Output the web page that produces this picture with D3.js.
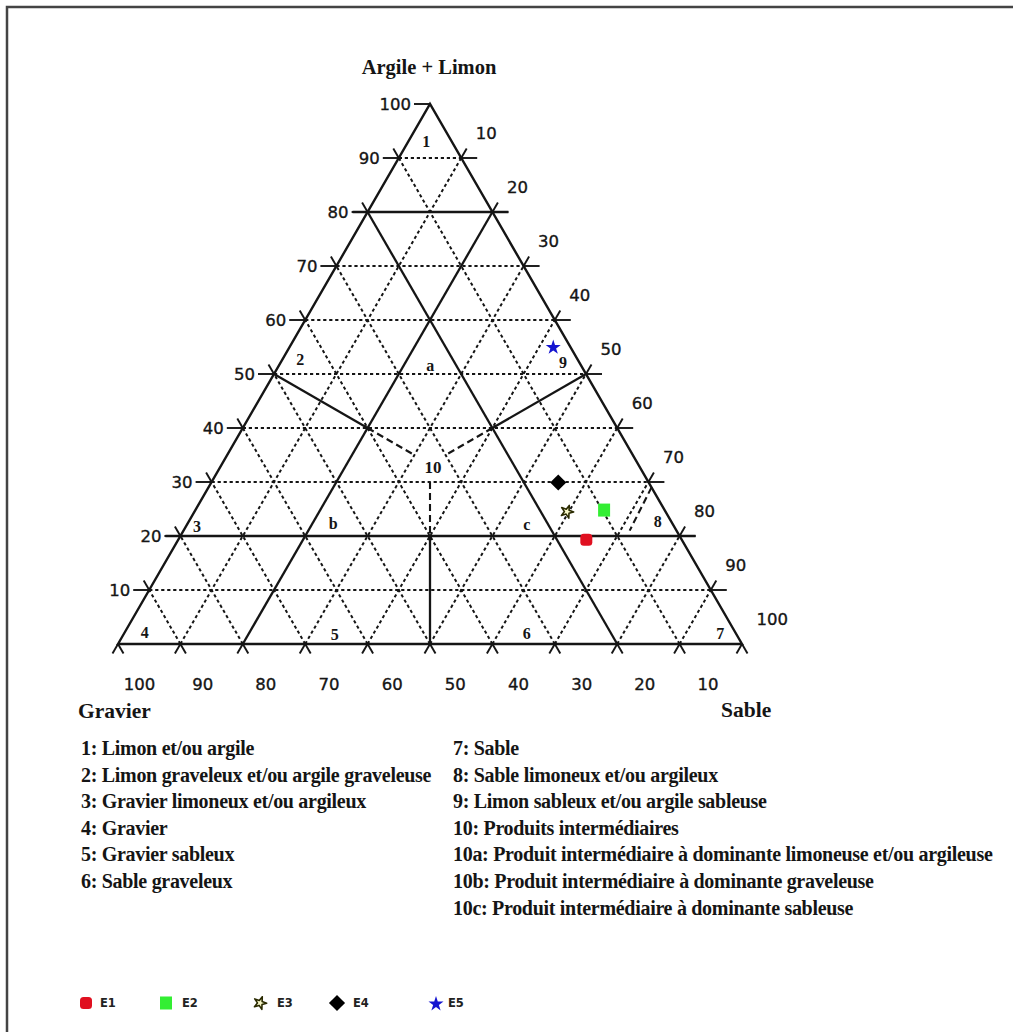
<!DOCTYPE html>
<html><head><meta charset="utf-8">
<script src="https://cdn.jsdelivr.net/npm/d3@7"></script>
<style>body{margin:0;background:#fff}svg{display:block}</style>
</head><body>
<svg id="c" width="1022" height="1032"></svg>
<script>
// ---------- data ----------
const gridLevels = [10, 20, 30, 40, 50, 60, 70, 80, 90];
const solidArgile = [20, 80];
const solidSable = [20];
const solidGravier = [20];
const leftTickLabels = [10, 20, 30, 40, 50, 60, 70, 80, 90, 100];
const rightTickLabels = [10, 20, 30, 40, 50, 60, 70, 80, 90, 100];
const bottomTickLabels = [100, 90, 80, 70, 60, 50, 40, 30, 20, 10];

const sampleNames = ["E1", "E2", "E3", "E4", "E5"];
const sampleArgileLimon = [19.3, 24.8, 24.5, 29.9, 55.1];
const sampleSable = [65.4, 65.5, 59.7, 55.6, 42.2];

const zoneNames = ["1", "2", "a", "9", "10", "b", "3", "c", "8", "4", "5", "6", "7"];
const zoneArgileLimon = [93.0, 52.6, 51.5, 52.2, 32.6, 22.4, 21.7, 22.2, 22.6, 2.2, 1.7, 2.0, 2.0];
const zoneSable = [2.9, 2.9, 24.3, 45.2, 34.2, 23.3, 1.8, 54.4, 75.2, 3.2, 33.9, 64.5, 95.5];

// zone-10 boundaries in (argile+limon, sable)
const boundSolid = [
  [[50, 0], [40, 20]],
  [[50, 50], [40, 40]],
  [[20, 40], [0, 50]]
];
const boundDashed = [
  [[40, 20], [35, 30]],
  [[40, 40], [35, 35]],
  [[30, 35], [20, 40]],
  [[29, 71], [21, 71.5]]
];

const classesLeft = [
  "1: Limon et/ou argile",
  "2: Limon graveleux et/ou argile graveleuse",
  "3: Gravier limoneux et/ou argileux",
  "4: Gravier",
  "5: Gravier sableux",
  "6: Sable graveleux"
];
const classesRight = [
  "7: Sable",
  "8: Sable limoneux et/ou argileux",
  "9: Limon sableux et/ou argile sableuse",
  "10: Produits intermédiaires",
  "10a: Produit intermédiaire à dominante limoneuse et/ou argileuse",
  "10b: Produit intermédiaire à dominante graveleuse",
  "10c: Produit intermédiaire à dominante sableuse"
];

// ---------- drawing ----------
const svg = d3.select("#c");
const px = d3.scaleLinear().domain([0, 100]).range([118, 742]);
const py = d3.scaleLinear().domain([0, 100]).range([644, 104]);
const pt = (A, S) => [px(S + A / 2), py(A)];
const ink = "#151515";
const serif = "'Liberation Serif','Times New Roman',serif";
const sans = "'DejaVu Sans',Verdana,sans-serif";

// frame
svg.append("path").attr("d", "M7,1032 L7,7 L1013,7")
  .attr("fill", "none").attr("stroke", "#444").attr("stroke-width", 2.5);

const g = svg.append("g");
function seg(p1, p2, dashed, w) {
  g.append("line").attr("x1", p1[0]).attr("y1", p1[1]).attr("x2", p2[0]).attr("y2", p2[1])
    .attr("stroke", ink).attr("stroke-width", w || (dashed ? 2 : 2.3))
    .attr("stroke-dasharray", dashed === true ? "3.2,2.8" : (dashed || null))
    .attr("stroke-linecap", "butt");
}

// grid lines
gridLevels.forEach(a => {
  const solid = solidArgile.includes(a);
  let p1 = pt(a, 0), p2 = pt(a, 100 - a);
  if (solid) { p1 = [p1[0] - 15, p1[1]]; p2 = [p2[0] + 16, p2[1]]; }
  seg(p1, p2, !solid);
});
gridLevels.forEach(s => {
  const solid = solidSable.includes(s);
  seg(pt(0, s), pt(100 - s, s), !solid);
});
gridLevels.forEach(gv => {
  const solid = solidGravier.includes(gv);
  seg(pt(0, 100 - gv), pt(100 - gv, 0), !solid);
});

// triangle edges
g.append("path")
  .attr("d", "M" + pt(0, 0) + "L" + pt(100, 0) + "L" + pt(0, 100) + "Z")
  .attr("fill", "none").attr("stroke", ink).attr("stroke-width", 2.4).attr("stroke-linejoin", "miter");

// zone boundaries
boundSolid.forEach(b => seg(pt(...b[0]), pt(...b[1]), false, 2.3));
boundDashed.forEach(b => seg(pt(...b[0]), pt(...b[1]), "7,4", 2.1));

// ticks
const L = 11, c60 = 0.5, s60 = Math.sqrt(3) / 2;
leftTickLabels.forEach(a => {
  const p = pt(a, 0);
  seg([p[0] - 16, p[1]], p, false, 1.9);
  if (a < 100) seg(p, [p[0] - L * c60, p[1] - L * s60], false, 1.9);
});
rightTickLabels.forEach(k => {
  const a = 100 - k;
  if (a <= 0) return;
  const p = pt(a, 100 - a);
  seg(p, [p[0] + 16, p[1]], false, 1.9);
  if (a < 100) seg(p, [p[0] + L * c60, p[1] - L * s60], false, 1.9);
});
d3.range(0, 101, 10).forEach(s => {
  const p = pt(0, s);
  seg(p, [p[0] - L * c60, p[1] + L * s60], false, 1.9);
  seg(p, [p[0] + L * c60, p[1] + L * s60], false, 1.9);
});

// tick labels
const lab = svg.append("g").attr("font-family", sans).attr("font-size", 16.5).attr("fill", ink)
  .attr("stroke", ink).attr("stroke-width", 0.35);
leftTickLabels.forEach(a => {
  const p = pt(a, 0);
  lab.append("text").attr("x", p[0] - 19).attr("y", p[1]).attr("text-anchor", "end")
    .attr("dominant-baseline", "central").text(a);
});
rightTickLabels.forEach(k => {
  const a = 100 - k;
  const p = pt(a, 100 - a);
  lab.append("text").attr("x", p[0] + 14.5).attr("y", p[1] - 25)
    .attr("dominant-baseline", "central").text(k);
});
const bx = d3.scaleLinear().domain([100, 10]).range([139.5, 708]);
bottomTickLabels.forEach(v => {
  lab.append("text").attr("x", bx(v)).attr("y", 690).attr("text-anchor", "middle").text(v);
});

// axis titles
svg.append("text").attr("x", 429).attr("y", 74).attr("text-anchor", "middle")
  .attr("font-family", serif).attr("font-weight", "bold").attr("font-size", 20.5).attr("fill", ink)
  .text("Argile + Limon");
svg.append("text").attr("x", 78).attr("y", 718)
  .attr("font-family", serif).attr("font-weight", "bold").attr("font-size", 21.5).attr("fill", ink)
  .text("Gravier");
svg.append("text").attr("x", 721).attr("y", 717)
  .attr("font-family", serif).attr("font-weight", "bold").attr("font-size", 21.5).attr("fill", ink)
  .text("Sable");

// zone labels
zoneNames.forEach((n, i) => {
  const p = pt(zoneArgileLimon[i], zoneSable[i]);
  svg.append("text").attr("x", p[0]).attr("y", p[1]).attr("text-anchor", "middle")
    .attr("dominant-baseline", "central")
    .attr("font-family", serif).attr("font-weight", "bold").attr("font-size", n === "10" ? 17 : 16).attr("fill", ink)
    .text(n);
});

// class legend
const cl = svg.append("g").attr("font-family", serif).attr("font-weight", "bold")
  .attr("font-size", 20).attr("fill", ink).attr("letter-spacing", -0.3);
classesLeft.forEach((t, i) => cl.append("text").attr("x", 81).attr("y", 755 + i * 26.6).text(t));
classesRight.forEach((t, i) => cl.append("text").attr("x", 453).attr("y", 755 + i * 26.6).text(t));

// sample markers
const styles = {
  E1: {type: "round", fill: "#e01020", stroke: "none"},
  E2: {type: "square", fill: "#33ee33", stroke: "none"},
  E3: {type: "ostar", fill: "#f8f8c8", stroke: "#2a2a00"},
  E4: {type: "diamond", fill: "#000", stroke: "none"},
  E5: {type: "star", fill: "#1515d0", stroke: "none"}
};
function marker(sel, name, x, y, k) {
  const st = styles[name];
  if (st.type === "round") {
    sel.append("rect").attr("x", x - 6 * k).attr("y", y - 6 * k).attr("width", 12 * k).attr("height", 12 * k)
      .attr("rx", 3.5 * k).attr("fill", st.fill);
  } else if (st.type === "square") {
    sel.append("rect").attr("x", x - 6 * k).attr("y", y - 6.5 * k).attr("width", 12 * k).attr("height", 13 * k)
      .attr("fill", st.fill);
  } else if (st.type === "diamond") {
    sel.append("path").attr("d", d3.symbol().type(d3.symbolSquare).size(130 * k * k)())
      .attr("transform", `translate(${x},${y}) rotate(45)`).attr("fill", st.fill);
  } else if (st.type === "star") {
    sel.append("path").attr("d", d3.symbol().type(d3.symbolStar).size(70 * k * k)())
      .attr("transform", `translate(${x},${y + 1})`).attr("fill", st.fill);
  } else {
    sel.append("path").attr("d", d3.symbol().type(d3.symbolStar).size(50 * k * k)())
      .attr("transform", `translate(${x},${y}) rotate(20)`).attr("fill", st.fill)
      .attr("stroke", st.stroke).attr("stroke-width", 1.6).attr("stroke-linejoin", "round");
  }
}
const mk = svg.append("g");
sampleNames.forEach((n, i) => {
  const p = pt(sampleArgileLimon[i], sampleSable[i]);
  marker(mk, n, p[0], p[1], 1);
});

// sample legend
const legMarkX = [86, 166, 260, 337, 436];
const legTextX = [100, 182, 277, 353, 448];
const lg = svg.append("g");
sampleNames.forEach((n, i) => {
  marker(lg, n, legMarkX[i], 1003, 1);
  lg.append("text").attr("x", legTextX[i]).attr("y", 1003).attr("dominant-baseline", "central")
    .attr("font-family", sans).attr("font-weight", "bold").attr("font-size", 11.5).attr("fill", "#222")
    .text(n);
});
</script>
</body></html>
